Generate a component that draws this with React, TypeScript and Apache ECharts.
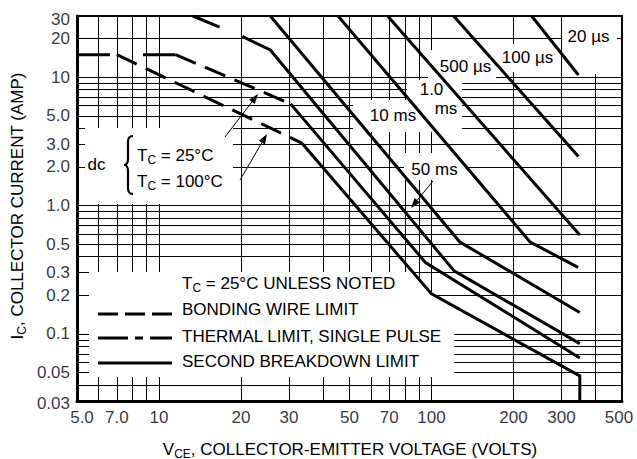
import React, { useEffect, useRef } from 'react';
import * as echarts from 'echarts';

// ---- axis grid & tick data ----
const xGridValues = [6, 7, 8, 9, 10, 20, 30, 40, 50, 60, 70, 80, 90, 100, 200, 300, 400];
const yGridValues = [0.04, 0.05, 0.06, 0.07, 0.08, 0.09, 0.1, 0.2, 0.3, 0.4, 0.5, 0.6, 0.7, 0.8, 0.9, 1, 2, 3, 4, 5, 6, 7, 8, 9, 10, 20];
const xTickValues = [5, 7, 10, 20, 30, 50, 70, 100, 200, 300, 500];
const xTickLabels = ['5.0', '7.0', '10', '20', '30', '50', '70', '100', '200', '300', '500'];
const yTickValues = [0.03, 0.05, 0.1, 0.2, 0.3, 0.5, 1, 2, 3, 5, 10, 20, 30];
const yTickLabels = ['0.03', '0.05', '0.1', '0.2', '0.3', '0.5', '1.0', '2.0', '3.0', '5.0', '10', '20', '30'];

// ---- curves (V, A) ----
const bondingV = [5, 11.5];
const bondingI = [15, 15];
const dc25ThermalV = [11.5, 30.4];
const dc25ThermalI = [15, 6.2];
const dc25BreakV = [30.4, 95, 350];
const dc25BreakI = [6.2, 0.36, 0.065];
const dc100ThermalV = [7, 33.4];
const dc100ThermalI = [15, 3.07];
const dc100BreakV = [33.4, 100, 350, 350];
const dc100BreakI = [3.07, 0.205, 0.047, 0.03];
const ms50ThermalV = [13.3, 20.2];
const ms50ThermalI = [30, 20.8];
const ms50BreakV = [20.2, 25.6, 121, 350];
const ms50BreakI = [20.8, 16.3, 0.31, 0.084];
const ms10V = [25.6, 127, 350];
const ms10I = [30, 0.52, 0.147];
const ms1V = [45.4, 230, 345];
const ms1I = [30, 0.52, 0.33];
const us500V = [69, 350];
const us500I = [30, 0.59];
const us100V = [120.5, 346];
const us100I = [30, 2.41];
const us20V = [233, 346];
const us20I = [30, 10.4];

const FONT = '"Liberation Sans", Arial, Helvetica, sans-serif';
const zip = (v: number[], i: number[]) => v.map((x, k) => [x, i[k]]);

echarts.graphic.registerShape(
  'brace',
  echarts.graphic.extendPath('M9,0 C5,0 4,2 4,6 L4,23 C4,27 2,29 0,29 C2,29 4,31 4,35 L4,52 C4,56 5,58 9,58', {})
);

function txt(text: string, x: number, y: number, opts: any = {}) {
  return {
    type: 'text',
    x,
    y,
    z: 12,
    rotation: opts.rotation || 0,
    style: {
      text,
      fontFamily: FONT,
      fontSize: opts.size || 17,
      fill: '#000',
      align: opts.align || 'center',
      verticalAlign: 'middle',
      rich: { s: { fontSize: 12, fontFamily: FONT, fill: '#000', padding: [9, 0, 0, 0] } },
    },
  };
}

function arrow(x1: number, y1: number, x2: number, y2: number) {
  const a = Math.atan2(y2 - y1, x2 - x1);
  const L = 10, W = 3.5;
  const bx = x2 - L * Math.cos(a), by = y2 - L * Math.sin(a);
  const px = -Math.sin(a) * W, py = Math.cos(a) * W;
  return [
    { type: 'line', z: 12, shape: { x1, y1, x2: bx, y2: by }, style: { stroke: '#000', lineWidth: 1 } },
    { type: 'polygon', z: 12, shape: { points: [[x2, y2], [bx + px, by + py], [bx - px, by - py]] }, style: { fill: '#000' } },
  ];
}

function seg(x1: number, x2: number, y: number) {
  return { type: 'line', z: 12, shape: { x1, y1: y, x2, y2: y }, style: { stroke: '#000', lineWidth: 3 } };
}

const boxes = [
  [85, 128, 233, 204],
  [562, 17, 617, 74],
  [496, 44, 558, 72],
  [428, 50, 496, 80],
  [407, 80, 462, 132],
  [353, 100, 420, 132],
  [404, 153, 465, 180],
];

function curve(data: number[][], dash: any) {
  return {
    type: 'line',
    data,
    symbol: 'none',
    showSymbol: false,
    silent: true,
    z: 10,
    lineStyle: { color: '#000', width: 3, type: dash, cap: 'butt', join: 'miter' },
  };
}

export default function App() {
  const ref = useRef<HTMLDivElement>(null);
  useEffect(() => {
    const chart = echarts.init(ref.current!, null, { renderer: 'svg' });
    const graphic: any[] = [];
    boxes.forEach(([x0, y0, x1, y1]) =>
      graphic.push({ type: 'rect', z: 8, shape: { x: x0, y: y0, width: x1 - x0, height: y1 - y0 }, style: { fill: '#fff' } })
    );
    graphic.push({
      type: 'polygon',
      z: 8,
      shape: { points: [[89, 272], [412, 272], [432, 294], [454, 307], [454, 377], [89, 377]] },
      style: { fill: '#fff' },
    });
    // annotations
    graphic.push(txt('dc', 96.5, 164, { align: 'center' }));
    graphic.push({ type: 'brace', z: 12, x: 124, y: 136, style: { stroke: '#000', fill: null, lineWidth: 2.2 } });
    graphic.push(txt('T{s|C} = 25°C', 137, 155, { align: 'left' }));
    graphic.push(txt('T{s|C} = 100°C', 137, 181, { align: 'left' }));
    graphic.push(...arrow(225, 137, 258, 94));
    graphic.push(...arrow(240, 180, 267, 134));
    graphic.push(txt('20 µs', 588.5, 36.5));
    graphic.push(txt('100 µs', 527.5, 57.5));
    graphic.push(txt('500 µs', 465.5, 66.5));
    graphic.push(txt('1.0', 431.5, 89.5));
    graphic.push(txt('ms', 446, 108.5));
    graphic.push(txt('10 ms', 393, 115));
    graphic.push(txt('50 ms', 434.5, 169.5));
    graphic.push(...arrow(433, 181, 411, 208));
    // legend
    graphic.push(txt('T{s|C} = 25°C UNLESS NOTED', 182, 283.5, { align: 'left' }));
    graphic.push(txt('BONDING WIRE LIMIT', 182, 309.5, { align: 'left' }));
    graphic.push(txt('THERMAL LIMIT, SINGLE PULSE', 182, 336.5, { align: 'left' }));
    graphic.push(txt('SECOND BREAKDOWN LIMIT', 182, 361.5, { align: 'left' }));
    graphic.push(seg(98, 118, 314), seg(125, 145, 314), seg(152, 172, 314));
    graphic.push(seg(98, 128, 338), seg(135, 143, 338), seg(150, 172, 338));
    graphic.push(seg(98, 172, 363));
    // axis titles
    graphic.push(txt('I{s|C}, COLLECTOR CURRENT (AMP)', 17, 206, { rotation: Math.PI / 2 }));
    graphic.push(txt('V{s|CE}, COLLECTOR-EMITTER VOLTAGE (VOLTS)', 350, 449));

    const labelBase = { show: true, color: '#000', fontSize: 17, fontFamily: FONT };
    const option: any = {
      animation: false,
      grid: { left: 77, top: 16, right: 15, bottom: 58, show: true, borderColor: '#000', borderWidth: 2, backgroundColor: 'transparent' },
      xAxis: {
        type: 'log', logBase: 10, min: 5, max: 500,
        axisLine: { show: true, lineStyle: { color: '#000', width: 3 } },
        axisTick: { show: false }, axisLabel: { show: false }, splitLine: { show: false },
      },
      yAxis: {
        type: 'log', logBase: 10, min: 0.03, max: 30,
        axisLine: { show: true, lineStyle: { color: '#000', width: 3 } },
        axisTick: { show: false }, axisLabel: { show: false }, splitLine: { show: false },
      },
      series: [
        {
          type: 'line', data: [[10, 1]], symbol: 'none', silent: true, z: 1,
          lineStyle: { opacity: 0 },
          markLine: {
            z: 1, silent: true, symbol: ['none', 'none'], label: { show: false },
            lineStyle: { color: '#000', width: 1, type: 'solid' },
            emphasis: { disabled: true },
            data: [...xGridValues.map((v) => ({ xAxis: v })), ...yGridValues.map((v) => ({ yAxis: v }))],
          },
        },
        curve(zip(bondingV, bondingI), [33, 33]),
        curve(zip(dc25ThermalV, dc25ThermalI), [22, 10]),
        curve(zip(dc25BreakV, dc25BreakI), 'solid'),
        curve(zip(dc100ThermalV, dc100ThermalI), [22, 10]),
        curve(zip(dc100BreakV, dc100BreakI), 'solid'),
        curve(zip(ms50ThermalV, ms50ThermalI), [29, 25]),
        curve(zip(ms50BreakV, ms50BreakI), 'solid'),
        curve(zip(ms10V, ms10I), 'solid'),
        curve(zip(ms1V, ms1I), 'solid'),
        curve(zip(us500V, us500I), 'solid'),
        curve(zip(us100V, us100I), 'solid'),
        curve(zip(us20V, us20I), 'solid'),
        {
          type: 'scatter', symbolSize: 0.01, clip: false, silent: true, z: 12,
          itemStyle: { color: 'rgba(0,0,0,0)' },
          label: { ...labelBase, position: 'bottom', distance: 8 },
          data: xTickValues.map((v, k) => ({
            value: [v, 0.03],
            label: { formatter: xTickLabels[k], offset: k === 0 ? [5, 0] : k === xTickValues.length - 1 ? [-3, 0] : [0, 0] },
          })),
        },
        {
          type: 'scatter', symbolSize: 0.01, clip: false, silent: true, z: 12,
          itemStyle: { color: 'rgba(0,0,0,0)' },
          label: { ...labelBase, position: 'left', distance: 7 },
          data: yTickValues.map((v, k) => ({
            value: [5, v],
            label: { formatter: yTickLabels[k], offset: k === 0 ? [0, 2] : k === yTickValues.length - 1 ? [0, 3] : [0, 0] },
          })),
        },
      ],
      graphic,
    };
    chart.setOption(option);
    return () => chart.dispose();
  }, []);
  return <div ref={ref} style={{ position: 'absolute', left: 0, top: 0, width: 637, height: 459 }} />;
}
